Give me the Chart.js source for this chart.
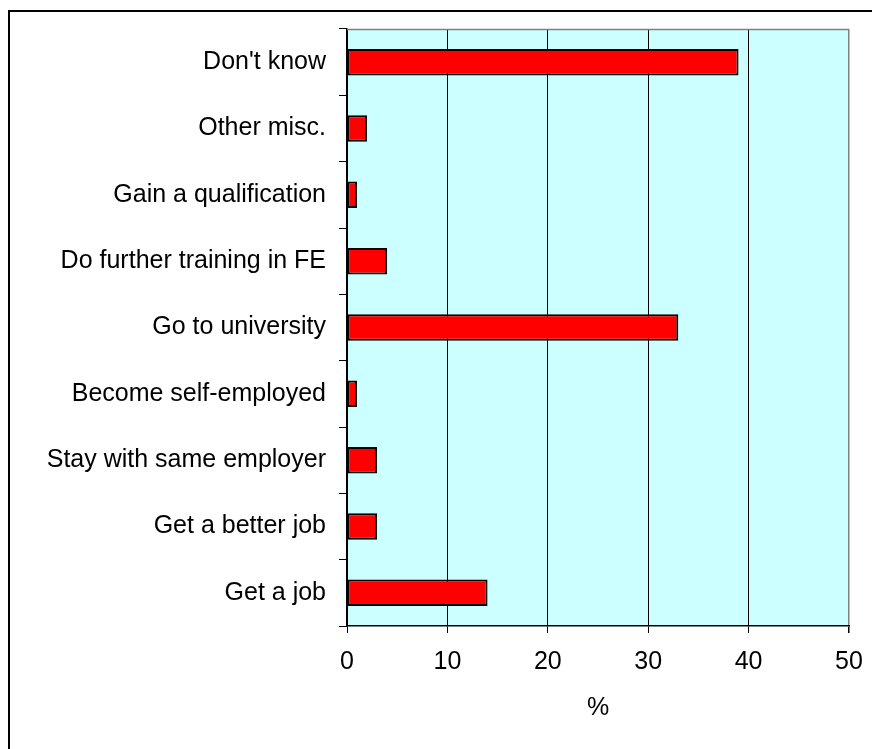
<!DOCTYPE html>
<html>
<head>
<meta charset="utf-8">
<script src="https://cdn.jsdelivr.net/npm/chart.js@4"></script>
<style>
  body { margin: 0; background: #fff; }
  #wrap { width: 872px; height: 749px; }
</style>
</head>
<body>
<div id="wrap"><canvas id="bar-chart"></canvas></div>
<script>
// categories top to bottom, as they appear in the picture
const categories = [
  "Don't know",
  "Other misc.",
  "Gain a qualification",
  "Do further training in FE",
  "Go to university",
  "Become self-employed",
  "Stay with same employer",
  "Get a better job",
  "Get a job",
];
const percentValues = [39, 2, 1, 4, 33, 1, 3, 3, 14];
const xTicks = [0, 10, 20, 30, 40, 50];

const font = { family: "'Liberation Sans', Arial, sans-serif", size: 25 };

// cyan plot background, grey top edge and the black frame round the whole picture
const backdrop = {
  id: "backdrop",
  beforeDraw(chart) {
    const { ctx, chartArea: a } = chart;
    ctx.save();
    ctx.fillStyle = "#CCFFFF";
    ctx.fillRect(a.left, a.top, a.right - a.left, a.bottom - a.top);
    ctx.strokeStyle = "#000";
    ctx.lineWidth = 2;
    ctx.strokeRect(9, 11, 1000, 1000);
    ctx.restore();
  },
  beforeDatasetsDraw(chart) {
    const { ctx, chartArea: a } = chart;
    ctx.save();
    ctx.strokeStyle = "#808080";
    ctx.lineWidth = 1.5;
    ctx.beginPath();
    ctx.moveTo(a.left, a.top + 0.5);
    ctx.lineTo(a.right, a.top + 0.5);
    ctx.stroke();
    ctx.restore();
  },
};

const ctx = document.getElementById("bar-chart").getContext("2d");
const chart = new Chart(ctx, {
  type: "bar",
  data: {
    labels: categories,
    datasets: [
      {
        label: "%",
        data: percentValues,
        backgroundColor: "#FF0000",
        borderColor: "#000000",
        borderWidth: 2,
        borderSkipped: false,
        categoryPercentage: 1,
        barPercentage: 0.4,
      },
    ],
  },
  options: {
    indexAxis: "y",
    responsive: true,
    maintainAspectRatio: false,
    animation: false,
    layout: { padding: { top: 29, right: 23, left: 0, bottom: 0 } },
    plugins: {
      legend: { display: false },
      tooltip: { enabled: false },
    },
    scales: {
      x: {
        min: 0,
        max: 50,
        afterBuildTicks: (s) => { s.ticks = xTicks.map((v) => ({ value: v })); },
        afterFit: (s) => {
          s.height = 123;
          s.paddingLeft = 0;
          s.paddingRight = 0;
        },
        grid: {
          color: (c) => (c.tick && c.tick.value === 50 ? "#808080" : "#000000"),
          lineWidth: (c) => (c.tick && c.tick.value === 50 ? 1.5 : 1),
          tickColor: "#000000",
          tickLength: 7,
        },
        border: { color: "#000000", width: 1.5 },
        ticks: { color: "#000", font: font, padding: 14, maxRotation: 0 },
        title: { display: true, text: "%", color: "#000", font: font, padding: { top: 0, bottom: 26 } },
      },
      y: {
        afterFit: (s) => { s.width = 347; },
        grid: {
          drawOnChartArea: false,
          color: "#000000",
          tickLength: 8,
          offset: true,
        },
        border: { color: "#000000", width: 1.5 },
        ticks: { color: "#000", font: font, padding: 13 },
      },
    },
  },
  plugins: [backdrop],
});
</script>
</body>
</html>
